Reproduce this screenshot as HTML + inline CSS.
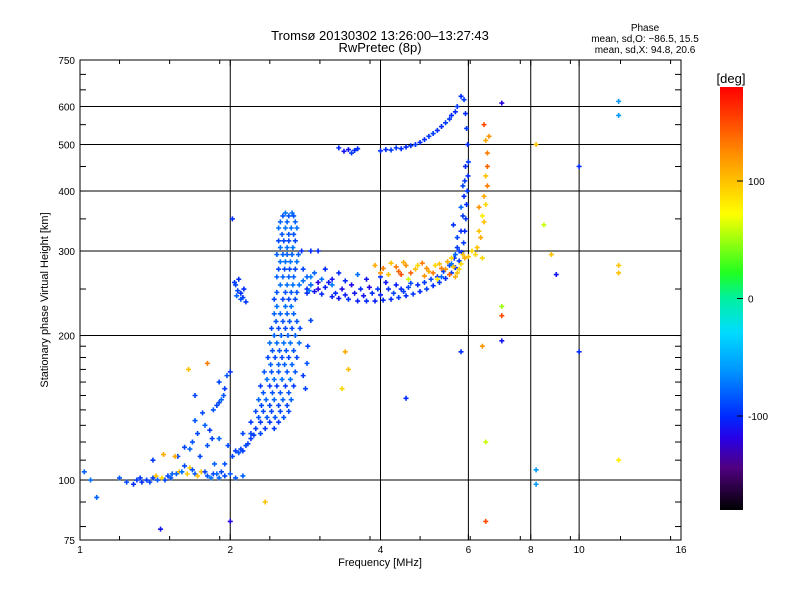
<!DOCTYPE html>
<html><head><meta charset="utf-8">
<style>
html,body{margin:0;padding:0;background:#fff;}
svg text{font-family:"Liberation Sans",sans-serif;fill:#000;}
</style></head>
<body>
<svg id="chart" width="800" height="600" viewBox="0 0 800 600" xmlns="http://www.w3.org/2000/svg">
<defs>
<linearGradient id="cbar" x1="0" y1="1" x2="0" y2="0">
<stop offset="0" stop-color="#000000"/>
<stop offset="0.1" stop-color="#500080"/>
<stop offset="0.17" stop-color="#2800e6"/>
<stop offset="0.22" stop-color="#0028ff"/>
<stop offset="0.33" stop-color="#0096ff"/>
<stop offset="0.42" stop-color="#00dcff"/>
<stop offset="0.5" stop-color="#00f0a0"/>
<stop offset="0.56" stop-color="#20ff20"/>
<stop offset="0.7" stop-color="#ffff00"/>
<stop offset="0.84" stop-color="#ff9000"/>
<stop offset="1" stop-color="#ff0000"/>
</linearGradient>
</defs>
<text x="380" y="40" font-size="13" text-anchor="middle">Tromsø 20130302 13:26:00–13:27:43</text>
<text x="380" y="52" font-size="13" text-anchor="middle">RwPretec (8p)</text>
<text x="645" y="31" font-size="10" text-anchor="middle">Phase</text>
<text x="645" y="42" font-size="10" text-anchor="middle">mean, sd,O: −86.5, 15.5</text>
<text x="645" y="53" font-size="10" text-anchor="middle">mean, sd,X:  94.8, 20.6</text>
<g id="grid"></g>
<g id="marks"></g>
<rect x="80" y="60" width="601" height="480" fill="none" stroke="#000" stroke-width="1"/>
<g id="axes"></g>
<text x="380" y="566" font-size="11" text-anchor="middle">Frequency [MHz]</text>
<text x="48" y="300" font-size="11" text-anchor="middle" transform="rotate(-90 48 300)">Stationary phase Virtual Height [km]</text>
<rect x="720" y="87" width="23" height="423" fill="url(#cbar)"/>
<text x="731" y="83" font-size="13" text-anchor="middle">[deg]</text>
<g id="cbticks"></g>
</svg>
<script>
const xTickVals = [1, 2, 4, 6, 8, 10, 16];
const xTickLabels = ["1", "2", "4", "6", "8", "10", "16"];
const yTickVals = [75, 100, 200, 300, 400, 500, 600, 750];
const yTickLabels = ["75", "100", "200", "300", "400", "500", "600", "750"];
const cbTickVals = [100, 0, -100];
const cbTickLabels = ["100", "0", "-100"];

// E-layer trace: [freq MHz, height km, phase deg]
const eTrace = [[1.02,104,-80],[1.05,100,-75],[1.08,92,-80],[1.3,100,-95],[1.33,99,-100],[1.36,100,-95],[1.4,101,-90],[1.43,100,-85],[1.46,101,90],[1.5,102,-90],[1.53,103,-80],[1.58,104,100],[1.62,107,-90],[1.66,106,95],[1.7,103,-85],[1.75,104,100],[1.8,102,-85],[1.85,103,-90],[1.9,101,-80],[1.95,102,-90],[2.05,101,-85],[2.12,102,-80],[1.4,110,-95],[1.47,113,110],[1.57,112,-90],[1.2,101,-85],[1.24,99,-90],[1.45,79,-110],[2.0,82,-120],[2.35,90,100],
 [1.28,98,-100],[1.32,101,-95],[1.38,99,-90],[1.42,102,100],[1.48,100,-90],[1.52,101,-85],[1.56,103,-80],[1.6,104,-75],[1.64,103,95],[1.68,105,-85],[1.72,102,100],[1.78,104,-90],[1.83,101,-75],[1.88,103,-80],[1.92,104,-90],[2.0,103,-85]];
// Rising F1 lower edge and low trace
const riseTrace = [[1.62,117,-90],[1.68,120,-85],[1.72,125,-90],[1.78,130,-80],[1.82,127,-95],[1.76,138,-90],[1.85,140,-85],[1.9,145,-90],[1.95,155,-95],[1.9,160,-90],[1.97,165,-85],[2.0,168,-100],[1.7,150,-90],[1.65,170,100],[1.8,175,130],[1.55,112,110],[1.9,122,-80],[1.98,118,-90],[2.05,115,-95],[2.1,116,-90],[2.15,118,-90],[2.2,122,-95],
 [1.92,147,-80],[1.88,143,-90],[1.94,150,-85],[1.86,108,-80],[1.74,112,-90],[1.8,118,-85],[1.84,122,-90],[1.95,108,-85],[2.02,112,-90],[2.08,114,-85],[2.12,115,-95],[2.17,119,-90],[2.23,124,-95],[1.66,116,-80],[1.7,133,-85]];
// Dense F1 column rows: [height, phase, freqs]
const columnRows = [
 [360,-75,[2.58,2.66]],[355,-85,[2.55,2.62,2.68]],[345,-80,[2.52,2.6,2.7]],[335,-75,[2.5,2.58,2.65,2.72]],[325,-85,[2.54,2.62,2.68]],[315,-90,[2.5,2.56,2.62,2.7]],[305,-75,[2.52,2.6,2.67]],
 [295,-80,[2.48,2.55,2.6,2.66,2.74]],[285,-75,[2.52,2.58,2.64,2.72]],[275,-90,[2.5,2.57,2.63,2.7,2.8]],[265,-80,[2.48,2.55,2.62,2.68,2.85]],[255,-75,[2.52,2.6,2.67,2.75,2.9]],[246,-85,[2.48,2.58,2.65,2.72]],
 [238,-90,[2.45,2.55,2.62,2.7]],[230,-75,[2.48,2.58,2.65]],[222,-80,[2.45,2.52,2.6,2.68]],[214,-85,[2.47,2.55,2.63,2.72]],[207,-90,[2.42,2.5,2.58,2.66,2.76]],[200,-80,[2.45,2.53,2.61,2.7]],
 [193,-75,[2.4,2.48,2.56,2.64,2.75]],[186,-85,[2.43,2.51,2.59,2.68]],[180,-90,[2.38,2.46,2.54,2.62,2.72]],[174,-80,[2.41,2.5,2.57,2.66]],[168,-85,[2.34,2.42,2.5,2.6,2.7]],[162,-75,[2.37,2.45,2.54,2.64]],
 [157,-95,[2.3,2.4,2.48,2.58,2.68]],[152,-85,[2.33,2.43,2.52,2.62]],[147,-80,[2.28,2.36,2.45,2.55,2.65]],[143,-90,[2.31,2.4,2.5,2.6]],[139,-90,[2.25,2.33,2.42,2.52,2.62]],[135,-85,[2.28,2.37,2.46,2.56]],
 [132,-95,[2.2,2.3,2.4,2.5]],[128,-95,[2.25,2.35,2.45]],[125,-90,[2.12,2.2,2.3]],[300,-100,[2.78,2.9,3.0]]];
// F2 O-mode trace
const f2Trace = [[2.85,250,-100],[2.95,247,-110],[3.05,244,-100],[3.2,241,-105],[3.3,239,-110],[3.45,238,-100],[3.6,236,-105],[3.75,236,-100],[3.9,236,-105],[4.05,237,-100],[4.2,238,-100],[4.35,240,-95],[4.5,242,-100],[4.65,244,-95],[4.8,247,-100],[4.95,250,-95],[5.1,254,-100],[5.25,258,-95],[5.4,263,-100],[5.55,270,-95],[5.65,277,-100],[5.75,286,-95],[5.82,298,-100],[5.87,312,-95],[5.9,330,-100],[5.93,350,-95],[5.95,375,-100],[5.97,400,-95],[5.99,430,-100],[6.0,460,-95],[5.98,500,-100],[5.95,540,-95],[5.92,580,-100],[5.88,620,-95],
 [3.0,258,-120],[3.2,262,-110],[3.5,255,-115],[3.8,252,-120],[4.1,258,-110],[4.3,255,-105],[4.6,257,-90],[3.3,270,-100],[3.6,268,-75],[2.9,265,-70],[3.1,275,-100],[5.7,320,-90],[5.6,340,-100],[5.8,370,-80],[5.75,300,-95],
 [2.9,255,-110],[3.0,250,-120],[3.1,252,-105],[3.15,258,-110],[3.25,245,-100],[3.35,250,-115],[3.4,243,-105],[3.55,245,-110],[3.65,250,-100],[3.7,242,-110],[3.85,245,-100],[3.95,250,-95],[4.0,243,-105],[4.15,250,-100],[4.25,245,-90],[4.4,250,-100],[4.45,247,-95],[4.55,252,-90],[4.75,255,-100],[4.9,258,-95],[5.05,262,-90],[5.2,265,-100],[5.35,272,-95],[5.5,280,-90],[5.62,290,-100],[5.7,305,-95],[5.8,330,-100],[5.85,355,-95],[5.88,390,-100],[5.9,420,-95],[5.92,450,-100],[5.85,410,-90],
 [2.95,270,-80],[3.05,262,-75],[3.2,255,-70],[2.8,260,-75],[2.88,248,-70],[3.4,260,-100],[3.75,262,-110],[4.0,265,-100],[5.3,265,-80],[5.55,282,-75],[5.65,295,-80]];
// F2 upper (multi-hop) trace
const upperTrace = [[3.3,492,-100],[3.45,488,-110],[3.6,490,-100],[3.5,480,-95],[4.0,485,-100],[4.2,487,-95],[4.4,490,-100],[4.6,497,-95],[4.8,505,-100],[5.0,520,-95],[5.2,535,-100],[5.4,555,-95],[5.55,575,-100],[5.7,600,-95],[5.8,630,-100],
 [3.38,484,-110],[3.55,486,-100],[4.1,488,-100],[4.3,492,-95],[4.5,494,-100],[4.7,500,-95],[4.9,512,-100],[5.1,527,-95],[5.3,545,-100],[5.5,565,-95],[5.65,585,-100]];
// X-mode trace (yellow/orange)
const xTrace = [[3.9,280,110],[4.05,276,130],[4.2,283,100],[4.35,272,140],[4.5,280,120],[4.7,275,100],[4.85,283,130],[5.0,272,110],[5.15,280,90],[5.3,276,130],[5.45,285,110],[5.6,278,100],[5.7,270,100],[5.8,282,90],[5.9,290,110],[4.4,268,150],[4.9,266,120],[5.5,268,140],[6.1,300,90],[6.25,305,100],[6.35,320,110],[6.45,345,100],[6.5,375,90],[6.55,410,130],[6.55,450,140],[6.5,510,110],[6.45,550,150],[6.3,370,120],[6.4,290,90],
 [4.0,270,120],[4.15,268,100],[4.3,278,130],[4.45,284,110],[4.6,270,140],[4.75,280,90],[4.95,276,120],[5.1,270,130],[5.25,282,100],[5.4,275,120],[5.55,290,90],[5.65,265,110],[5.75,275,90],[5.85,295,100],[4.55,262,60],[5.2,262,80],[6.0,292,100],[6.2,295,90],[6.3,330,100],[6.4,355,80],[6.45,390,110],[6.5,430,100],[6.55,480,130],[6.6,520,120]];
// Scattered points
const scatter = [[2.02,350,-100],[3.4,185,110],[3.45,170,100],[3.35,155,90],[4.5,148,-100],[5.8,185,-100],[6.4,190,120],[7.0,195,-110],[7.0,230,50],[7.0,220,150],[7.0,610,-120],[8.2,500,100],[8.5,340,60],[8.8,295,100],[9.0,268,-110],[10.0,450,-100],[10.0,185,-100],[12.0,615,-60],[12.0,575,-60],[12.0,280,100],[12.0,270,100],[12.0,110,80],[8.2,105,-60],[8.2,98,-60],[6.5,120,60],[6.5,82,150],[2.9,215,-90],[2.85,245,-100],[2.1,245,-100],[2.05,255,-90],[2.15,235,-95],[2.08,262,-100],[2.12,240,-95],
 [2.07,248,-90],[2.1,238,-85],[2.04,258,-95],[2.13,250,-100],[2.06,242,-80],[2.86,190,-90],[2.85,175,-85],[2.8,165,-95],[2.83,155,-90]];

const X0=80,X1=681,Y0=540,Y1=60;
function xs(f){return X0+(Math.log2(f))*(X1-X0)/4;}
function ys(h){return Y0-Math.log10(h/75)*(Y0-Y1);}
function cy(p){return 510-(p+180)/360*423;}

const stops=[[-180,[0,0,0]],[-144,[80,0,128]],[-119,[40,0,230]],[-101,[0,40,255]],[-61,[0,150,255]],[-29,[0,220,255]],[0,[0,240,160]],[22,[32,255,32]],[72,[255,255,0]],[122,[255,144,0]],[180,[255,0,0]]];
function col(p){
 for(let i=0;i<stops.length-1;i++){const a=stops[i],b=stops[i+1];
  if(p<=b[0]){const t=Math.max(0,(p-a[0])/(b[0]-a[0]));
   const c=a[1].map((v,k)=>Math.round(v+(b[1][k]-v)*t));return `rgb(${c[0]},${c[1]},${c[2]})`;}}
 return 'rgb(255,0,0)';}

const NS='http://www.w3.org/2000/svg';
function mk(tag,attrs,parent){const e=document.createElementNS(NS,tag);for(const k in attrs)e.setAttribute(k,attrs[k]);parent.appendChild(e);return e;}

const grid=document.getElementById('grid');
[2,4,6,8,10].forEach(v=>{const l=mk('line',{x1:xs(v),x2:xs(v),y1:Y1,y2:Y0,stroke:'#000'},grid);

});
[100,200,300,400,500,600].forEach(v=>{const l=mk('line',{x1:X0,x2:X1,y1:ys(v),y2:ys(v),stroke:'#000'},grid);

});

const axes=document.getElementById('axes');
xTickVals.forEach((v,i)=>{const t=mk('text',{x:xs(v),y:553,'font-size':10,'text-anchor':'middle'},axes);t.textContent=xTickLabels[i];


mk('line',{x1:xs(v),x2:xs(v),y1:Y0,y2:Y0-6,stroke:'#000'},axes);mk('line',{x1:xs(v),x2:xs(v),y1:Y1,y2:Y1+6,stroke:'#000'},axes);});
for(let f=1.2;f<16;f*=1.26){mk('line',{x1:xs(f),x2:xs(f),y1:Y1,y2:Y1+4,stroke:'#000'},axes);mk('line',{x1:xs(f),x2:xs(f),y1:Y0,y2:Y0-4,stroke:'#000'},axes);}
yTickVals.forEach((v,i)=>{const t=mk('text',{x:75,y:ys(v)+4,'font-size':10,'text-anchor':'end'},axes);t.textContent=yTickLabels[i];

});
for(let h=80;h<750;h+=(h<200?10:50)){mk('line',{x1:X0,x2:X0+6,y1:ys(h),y2:ys(h),stroke:'#000'},axes);mk('line',{x1:X1,x2:X1-6,y1:ys(h),y2:ys(h),stroke:'#000'},axes);}

const cbt=document.getElementById('cbticks');
cbTickVals.forEach((v,i)=>{const t=mk('text',{x:748,y:cy(v)+4,'font-size':10},cbt);t.textContent=cbTickLabels[i];


mk('line',{x1:737,x2:743,y1:cy(v),y2:cy(v),stroke:'#000'},cbt);});

const marks=document.getElementById('marks');
function plus(f,h,p){const x=xs(f),y=ys(h),c=col(p);
 const g=mk('path',{d:`M${x-2.5},${y}h5M${x},${y-2.5}v5`,stroke:c,'stroke-width':1.6,fill:'none'},marks);
 
 }
[eTrace,riseTrace,f2Trace,upperTrace,xTrace,scatter].forEach(arr=>arr.forEach(d=>plus(d[0],d[1],d[2])));
columnRows.forEach(r=>r[2].forEach(f=>plus(f,r[0],r[1])));
</script>
</body></html>
